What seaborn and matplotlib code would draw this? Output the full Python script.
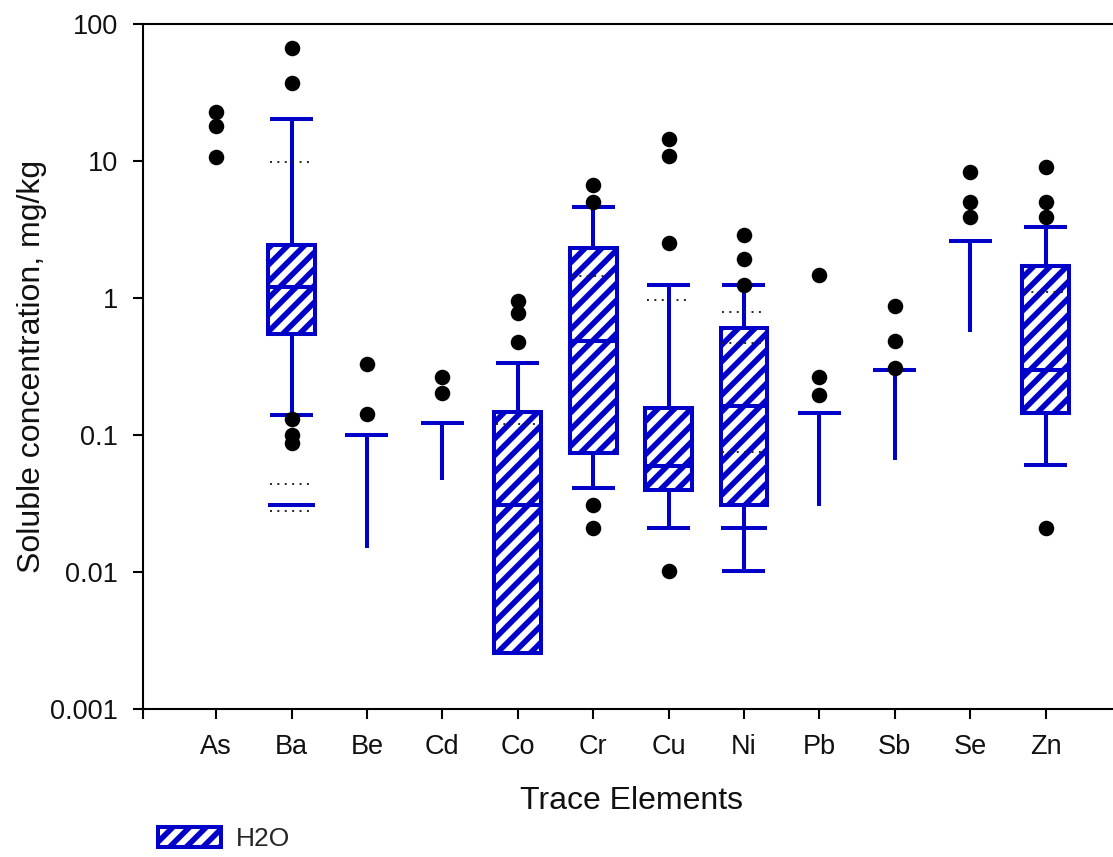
import numpy as np
import matplotlib
matplotlib.use("Agg")
import matplotlib.pyplot as plt
from matplotlib.patches import Patch
from matplotlib.ticker import NullLocator
import seaborn as sns

# Soluble trace-element concentrations (mg/kg), water extraction
elements = ["As", "Ba", "Be", "Cd", "Co", "Cr", "Cu", "Ni", "Pb", "Sb", "Se", "Zn"]
nan = np.nan

# box statistics per element (nan = not drawn)
q1 = [nan, 0.545, nan, nan, 0.00256, 0.074, 0.040, 0.031, nan, nan, nan, 0.145]
medians = [nan, 1.2, nan, nan, 0.031, 0.485, 0.059, 0.163, nan, nan, nan, 0.298]
q3 = [nan, 2.45, nan, nan, 0.147, 2.32, 0.157, 0.604, nan, nan, nan, 1.71]
whisker_high = [nan, 20.3, 0.10, 0.122, 0.336, 4.6, 1.24, 1.24, 0.145, 0.30, 2.6, 3.3]
whisker_low = [nan, 0.14, 0.015, 0.047, nan, 0.041, 0.021, 0.0102, 0.0303, 0.066, 0.565, 0.060]

# dotted mean lines
mean_elements = ["Ba", "Ba", "Ba", "Co", "Cr", "Cu", "Ni", "Ni", "Ni", "Zn"]
mean_values = [9.8, 0.044, 0.028, 0.12, 1.45, 0.97, 0.79, 0.47, 0.075, 1.1]

# additional solid percentile marks
extra_elements = ["Ba", "Ni"]
extra_values = [0.031, 0.021]

# outlying samples
outlier_elements = ["As", "As", "As",
                    "Ba", "Ba", "Ba", "Ba", "Ba",
                    "Be", "Be",
                    "Cd", "Cd",
                    "Co", "Co", "Co",
                    "Cr", "Cr", "Cr", "Cr",
                    "Cu", "Cu", "Cu", "Cu",
                    "Ni", "Ni", "Ni",
                    "Pb", "Pb", "Pb",
                    "Sb", "Sb", "Sb",
                    "Se", "Se", "Se",
                    "Zn", "Zn", "Zn", "Zn"]
outlier_values = [22.8, 18.0, 10.7,
                  67.0, 37.0, 0.13, 0.10, 0.088,
                  0.33, 0.142,
                  0.265, 0.203,
                  0.95, 0.78, 0.48,
                  6.7, 5.0, 0.031, 0.021,
                  14.5, 10.8, 2.5, 0.0102,
                  2.88, 1.93, 1.24,
                  1.47, 0.265, 0.196,
                  0.875, 0.485, 0.31,
                  8.3, 5.0, 3.9,
                  9.0, 5.0, 3.9, 0.021]

y_ticks = [0.001, 0.01, 0.1, 1, 10, 100]
y_tick_labels = ["0.001", "0.01", "0.1", "1", "10", "100"]

BLUE = "#0000C8"
BOX_W = 0.62
CAP_W = 0.57
LW = 2.9

sns.set_theme(style="ticks")
plt.rcParams["font.family"] = ["Liberation Sans", "DejaVu Sans"]
plt.rcParams["hatch.linewidth"] = 4.0
plt.rcParams["hatch.color"] = BLUE

W, H = 1113, 857
fig = plt.figure(figsize=(W / 100, H / 100), dpi=100)
x_left, x_right = 143 / W, 1121 / W
y_bot, y_top = 1 - 709 / H, 1 - 24 / H
ax = fig.add_axes([x_left, y_bot, x_right - x_left, y_top - y_bot])
ax.set_yscale("log")
ax.set_xlim(-0.97, 12.0)
ax.set_ylim(0.001, 100)

pos = np.arange(len(elements), dtype=float)
q1a, q3a = np.array(q1), np.array(q3)
meda = np.array(medians)
whi, wlo = np.array(whisker_high), np.array(whisker_low)
has_box = ~np.isnan(q1a)
has_hi = ~np.isnan(whi)
has_lo = ~np.isnan(wlo)

# boxes
ax.bar(pos[has_box], (q3a - q1a)[has_box], bottom=q1a[has_box], width=BOX_W,
       color="white", edgecolor=BLUE, hatch="//", linewidth=LW, zorder=2)
ax.hlines(meda[has_box], pos[has_box] - BOX_W / 2, pos[has_box] + BOX_W / 2,
          color=BLUE, linewidth=LW, zorder=3)

# whiskers above the box (or the full range where no box is drawn)
top_from = np.where(has_box, q3a, wlo)
m = has_hi & ~np.isnan(top_from)
ax.vlines(pos[m], top_from[m], whi[m], color=BLUE, linewidth=LW, zorder=1)
ax.hlines(whi[has_hi], pos[has_hi] - CAP_W / 2, pos[has_hi] + CAP_W / 2,
          color=BLUE, linewidth=LW, zorder=3)

# whiskers below the box
m = has_box & has_lo
ax.vlines(pos[m], wlo[m], q1a[m], color=BLUE, linewidth=LW, zorder=1)
ax.hlines(wlo[m], pos[m] - CAP_W / 2, pos[m] + CAP_W / 2,
          color=BLUE, linewidth=LW, zorder=3)

# extra solid marks
ex_pos = np.array([elements.index(e) for e in extra_elements], dtype=float)
ax.hlines(extra_values, ex_pos - BOX_W / 2, ex_pos + BOX_W / 2,
          color=BLUE, linewidth=LW, zorder=3)

# dotted mean lines
mn_pos = np.array([elements.index(e) for e in mean_elements], dtype=float)
ax.hlines(mean_values, mn_pos - CAP_W / 2, mn_pos + CAP_W / 2,
          color="#222222", linewidth=1.4, linestyles=(0, (1, 2.8)), zorder=3)

# outliers
out_pos = [elements.index(e) for e in outlier_elements]
sns.scatterplot(x=out_pos, y=outlier_values, color="black", s=125,
                linewidth=0, zorder=4, ax=ax, legend=False)

# axes styling
for side in ("left", "bottom", "top"):
    ax.spines[side].set_color("black")
    ax.spines[side].set_linewidth(1.5)
ax.spines["right"].set_visible(False)

ax.set_yticks(y_ticks)
ax.set_yticklabels(y_tick_labels)
ax.yaxis.set_minor_locator(NullLocator())
ax.set_xticks([-0.97] + list(pos))
ax.set_xticklabels([""] + elements)
ax.tick_params(axis="both", direction="out", length=7, width=1.5,
               color="black", labelsize=19.5, pad=11, labelcolor="#111111")

ax.set_xlabel("Trace Elements", fontsize=23, color="#111111")
ax.set_ylabel("Soluble concentration, mg/kg", fontsize=23, color="#111111")
ax.xaxis.set_label_coords(0.5, -0.113)
ax.yaxis.set_label_coords(-0.098, 0.5)

handle = Patch(facecolor="white", edgecolor=BLUE, hatch="//", linewidth=LW)
fig.legend(handles=[handle], labels=["H2O"], loc="center left",
           bbox_to_anchor=(158 / W, 1 - 839 / H), frameon=False, fontsize=19,
           handlelength=2.4, handleheight=0.8, handletextpad=0.55,
           borderaxespad=0, borderpad=0)

fig.savefig("out.png", dpi=100, facecolor="white")
